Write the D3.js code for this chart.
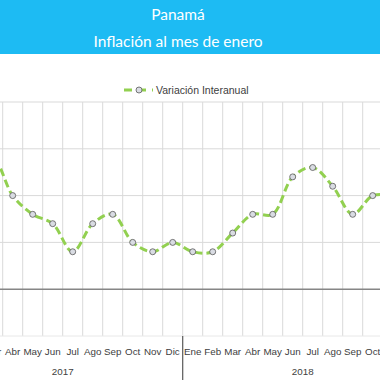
<!DOCTYPE html>
<html>
<head>
<meta charset="utf-8">
<script src="https://cdn.jsdelivr.net/npm/d3@7"></script>
<style>
  html, body { margin: 0; padding: 0; background: #fff; }
  svg { display: block; }
</style>
</head>
<body>
<svg id="chart" width="380" height="380"></svg>
<script>
// ---- data ----
const titleLines = ["Panamá", "Inflación al mes de enero"];
const seriesName = "Variación Interanual";
const years = ["2017", "2018"];
const months = ["Ene", "Feb", "Mar", "Abr", "May", "Jun", "Jul", "Ago", "Sep", "Oct", "Nov", "Dic"];
// values 2017 (Ene..Dic) and 2018 (Ene..Dic); null = not in view
const values2017 = [null, 1.3, 1.4, 1.0, 0.8, 0.7, 0.4, 0.7, 0.8, 0.5, 0.4, 0.5];
const values2018 = [0.4, 0.4, 0.6, 0.8, 0.8, 1.2, 1.3, 1.1, 0.8, 1.0, 1.0, null];
const yTicks = [-0.5, 0, 0.5, 1.0, 1.5, 2.0];

// ---- build ----
const cats = [];
years.forEach((y, yi) => months.forEach((m, mi) => {
  const v = (yi === 0 ? values2017 : values2018)[mi];
  cats.push({ key: y + "-" + m, year: y, month: m, value: v });
}));

const svg = d3.select("#chart");
const W = 380, H = 380;
const plotTop = 102, plotBottom = 336;

const x = d3.scaleBand()
  .domain(cats.map(d => d.key))
  .range([-57.3, -57.3 + 20 * cats.length])
  .padding(0);
const y = d3.scaleLinear().domain([-0.5, 2.0]).range([plotBottom, plotTop]);
const cx = d => x(d.key) + x.bandwidth() / 2;

// banner
svg.append("rect").attr("x", 0).attr("y", 0).attr("width", W).attr("height", 54).attr("fill", "#1DBBF3");
svg.selectAll("text.title").data(titleLines).enter().append("text")
  .attr("class", "title")
  .attr("x", 178).attr("y", (d, i) => i === 0 ? 14 : 41)
  .attr("text-anchor", "middle").attr("dominant-baseline", "central")
  .attr("font-family", "Lato, 'Open Sans', sans-serif")
  .attr("font-size", 15.5)
  .attr("fill", "#fff")
  .text(d => d);

// gridlines
const g = svg.append("g");
const bounds = d3.range(cats.length + 1).map(i => x.range()[0] + i * x.step());
g.selectAll("line.vg").data(bounds).enter().append("line")
  .attr("x1", d => d).attr("x2", d => d)
  .attr("y1", plotTop).attr("y2", plotBottom)
  .attr("stroke", "#D9D9D9").attr("stroke-width", 1);
g.selectAll("line.hg").data(yTicks.filter(t => t !== 0)).enter().append("line")
  .attr("x1", 0).attr("x2", W)
  .attr("y1", d => y(d)).attr("y2", d => y(d))
  .attr("stroke", d => d === -0.5 ? "#E8E8E8" : "#D9D9D9").attr("stroke-width", 1);
// zero axis
g.append("line").attr("x1", 0).attr("x2", W).attr("y1", y(0)).attr("y2", y(0))
  .attr("stroke", "#868686").attr("stroke-width", 1.6);

// month labels (only those reaching into the view)
svg.selectAll("text.month").data(cats.filter(d => cx(d) > -12 && cx(d) < W + 12)).enter().append("text")
  .attr("x", cx).attr("y", 351)
  .attr("text-anchor", "middle").attr("dominant-baseline", "central")
  .attr("font-family", "'Liberation Sans', Arial, sans-serif").attr("font-size", 9.8)
  .attr("fill", "#404040").text(d => d.month);

// year labels + separators
years.forEach((yr) => {
  const first = x(yr + "-Ene"), last = x(yr + "-Dic") + x.bandwidth();
  svg.append("text").attr("x", (first + last) / 2).attr("y", 371)
    .attr("text-anchor", "middle").attr("dominant-baseline", "central")
    .attr("font-family", "'Liberation Sans', Arial, sans-serif").attr("font-size", 9.8)
    .attr("fill", "#404040").text(yr);
});
const seps = years.map(yr => x(yr + "-Ene")).concat([x(years[years.length - 1] + "-Dic") + x.bandwidth()]);
svg.selectAll("line.sep").data(seps).enter().append("line")
  .attr("x1", d => d).attr("x2", d => d).attr("y1", plotBottom).attr("y2", H)
  .attr("stroke", "#595959").attr("stroke-width", 1.2);

// series line
const pts = cats.filter(d => d.value !== null);
const line = d3.line()
  .x(cx)
  .y(d => y(d.value))
  .curve(d3.curveCatmullRom.alpha(0.5));
svg.append("path").datum(pts)
  .attr("d", line).attr("fill", "none")
  .attr("stroke", "#92D050").attr("stroke-width", 3)
  .attr("stroke-dasharray", "8,4");
svg.selectAll("circle.pt").data(pts).enter().append("circle")
  .attr("cx", cx).attr("cy", d => y(d.value))
  .attr("r", 3).attr("fill", "#D9DCE3").attr("stroke", "#595959").attr("stroke-width", 0.8);

// legend
const lg = svg.append("g").attr("transform", "translate(0,90)");
lg.append("line").attr("x1", 124).attr("x2", 153).attr("y1", 0).attr("y2", 0)
  .attr("stroke", "#92D050").attr("stroke-width", 3).attr("stroke-dasharray", "8,6");
lg.append("circle").attr("cx", 139).attr("cy", 0).attr("r", 3)
  .attr("fill", "#D9DCE3").attr("stroke", "#595959").attr("stroke-width", 0.8);
lg.append("text").attr("x", 156).attr("y", 0).attr("dominant-baseline", "central")
  .attr("font-family", "'Liberation Sans', Arial, sans-serif").attr("font-size", 10.5)
  .attr("fill", "#404040").text(seriesName);
</script>
</body>
</html>
